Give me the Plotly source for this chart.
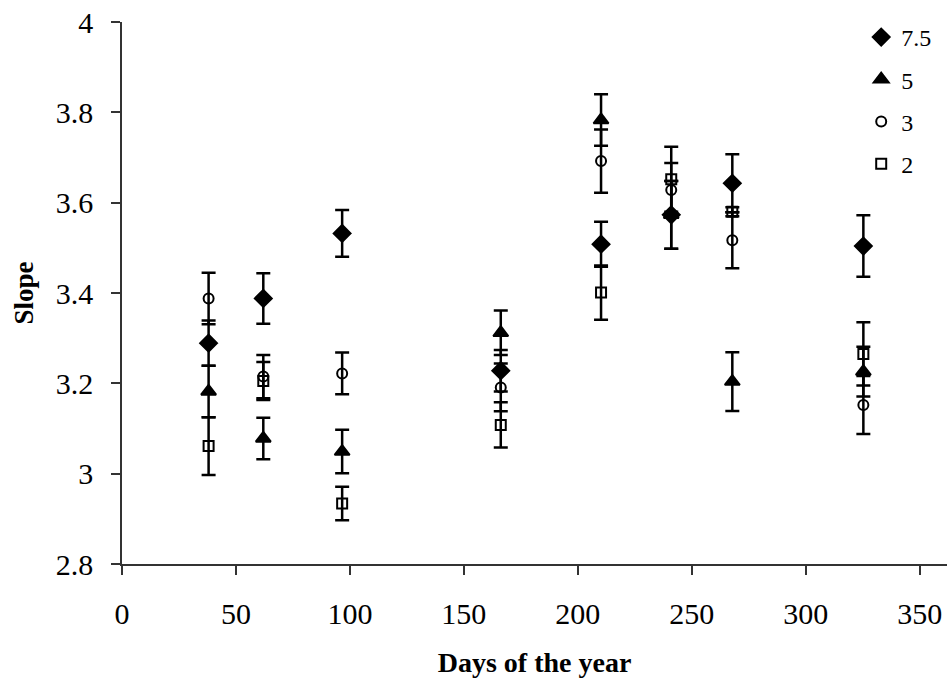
import plotly.graph_objects as go

days = [38, 62, 96.6, 166.2, 210.2, 241, 267.8, 325.3]

s75 = [3.289, 3.388, 3.532, 3.228, 3.508, 3.573, 3.643, 3.504]
e75 = [0.050, 0.056, 0.052, 0.046, 0.050, 0.075, 0.064, 0.068]

s5 = [3.182, 3.078, 3.049, 3.312, 3.783, 3.573, 3.204, 3.226]
e5 = [0.057, 0.046, 0.048, 0.049, 0.057, 0.075, 0.065, 0.055]

s3 = [3.388, 3.215, 3.222, 3.191, 3.692, 3.628, 3.517, 3.152]
e3 = [0.057, 0.048, 0.046, 0.053, 0.070, 0.060, 0.062, 0.064]

s2 = [3.061, 3.205, 2.934, 3.108, 3.401, 3.652, 3.580, 3.265]
e2 = [0.064, 0.042, 0.037, 0.050, 0.060, 0.072, 0.010, 0.070]

names = ["7.5", "5", "3", "2"]
series = [s75, s5, s3, s2]
errors = [e75, e5, e3, e2]
symbols = ["diamond", "triangle-up", "circle-open", "square-open"]
sizes = [13, 13, 10, 10]

FONT = "Liberation Serif, Times New Roman, serif"

fig = go.Figure()
for i, (nm, ys, es, sym, sz) in enumerate(zip(names, series, errors, symbols, sizes)):
    fig.add_trace(go.Scatter(
        x=days, y=ys, name=nm, mode="markers",
        legendgroup=nm,
        marker=dict(symbol=sym, size=sz, color="black",
                    line=dict(color="black", width=2)),
        error_y=dict(type="data", array=es, visible=True,
                     color="black", thickness=2.5, width=7),
    ))

fig.update_layout(
    width=947, height=684,
    margin=dict(l=122, r=0, t=22, b=120),
    paper_bgcolor="white", plot_bgcolor="white",
    font=dict(family=FONT, size=30, color="black"),
    showlegend=True,
    legend=dict(x=0.896, y=1.013, xanchor="left", yanchor="top",
                font=dict(family=FONT, size=24, color="black"),
                tracegroupgap=8, bgcolor="rgba(0,0,0,0)"),
    xaxis=dict(range=[0, 362], tickvals=[0, 50, 100, 150, 200, 250, 300, 350],
               showline=True, linecolor="#333", linewidth=1.5,
               ticks="outside", ticklen=9, tickcolor="#333", tickwidth=1.5,
               showgrid=False, zeroline=False,
               ticklabelstandoff=13,
               tickfont=dict(family=FONT, size=30, color="black"),
               title=dict(text="<b>Days of the year</b>", standoff=24,
                          font=dict(family=FONT, size=28, color="black"))),
    yaxis=dict(range=[2.8, 4.0], tickvals=[2.8, 3.0, 3.2, 3.4, 3.6, 3.8, 4.0],
               ticktext=["2.8", "3", "3.2", "3.4", "3.6", "3.8", "4"],
               showline=True, linecolor="#333", linewidth=1.5,
               ticks="outside", ticklen=9, tickcolor="#333", tickwidth=1.5,
               showgrid=False, zeroline=False,
               ticklabelstandoff=12,
               tickfont=dict(family=FONT, size=30, color="black"),
               title=dict(text="<b>Slope</b>", standoff=14,
                          font=dict(family=FONT, size=27, color="black"))),
)

fig.write_html("out.html")
